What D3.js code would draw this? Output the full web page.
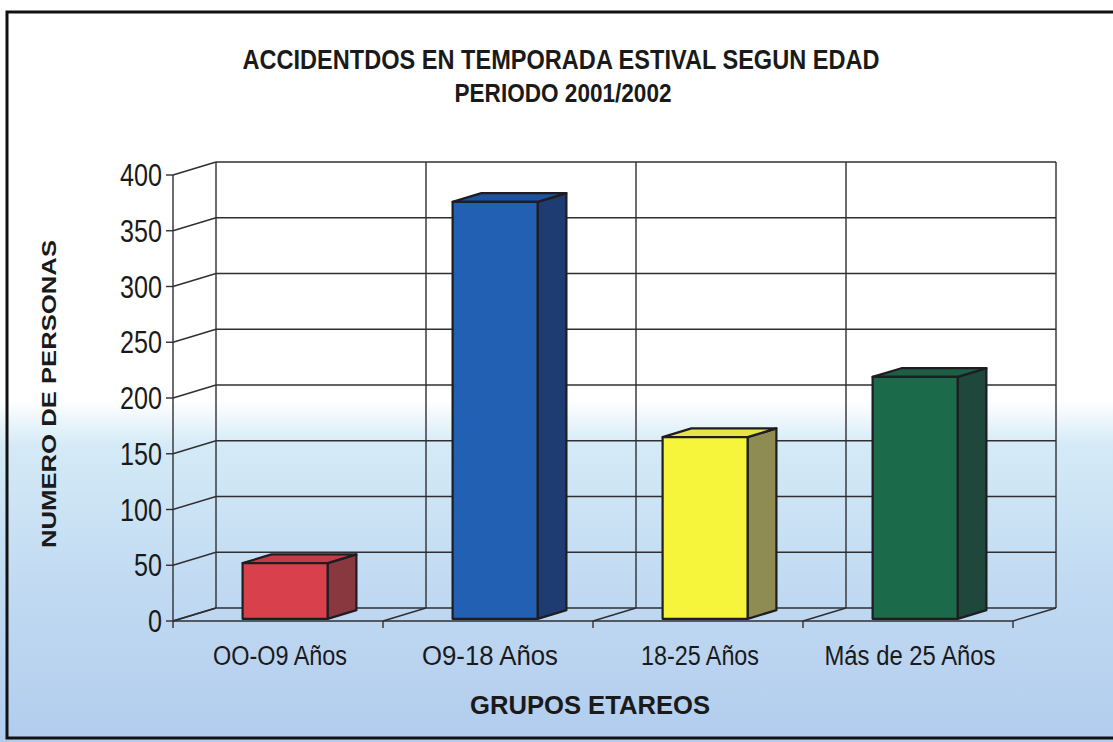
<!DOCTYPE html>
<html><head><meta charset="utf-8">
<script src="https://cdn.jsdelivr.net/npm/d3@7"></script>
<style>html,body{margin:0;padding:0;background:#fff}svg{display:block}</style>
</head><body>
<svg id="c" width="1113" height="742"></svg>
<script>
const categories = ["OO-O9 Años", "O9-18 Años", "18-25 Años", "Más de 25 Años"];
const values = [50, 374, 163, 217];
const yTicks = [0, 50, 100, 150, 200, 250, 300, 350, 400];
const frontColors = ["#d8404c", "#2160b2", "#f6f53c", "#1b6a4a"];
const topColors = ["#c43a48", "#1d52a0", "#e6e448", "#1d5e44"];
const sideColors = ["#8a3840", "#1e3b72", "#8e8c52", "#1f473c"];
const titleText = "ACCIDENTDOS EN TEMPORADA ESTIVAL SEGUN EDAD";
const subtitleText = "PERIODO 2001/2002";
const yTitle = "NUMERO DE PERSONAS";
const xTitle = "GRUPOS ETAREOS";

const svg = d3.select("#c");
const W = 1113, H = 742;
const FONT = "'Liberation Sans Narrow','Liberation Sans',Arial,sans-serif";

// background
const defs = svg.append("defs");
const g = defs.append("linearGradient").attr("id","bg").attr("x1",0).attr("y1",0).attr("x2",0).attr("y2",1);
g.append("stop").attr("offset","0%").attr("stop-color","#ffffff");
g.append("stop").attr("offset","54%").attr("stop-color","#ffffff");
g.append("stop").attr("offset","60%").attr("stop-color","#d4eaf7");
g.append("stop").attr("offset","78%").attr("stop-color","#c2dbf2");
g.append("stop").attr("offset","100%").attr("stop-color","#b2ccee");
svg.append("rect").attr("width",W).attr("height",H).attr("fill","url(#bg)");

// frame
svg.append("path").attr("d","M1113,12 L7,12 L7,738 L1113,738").attr("fill","none").attr("stroke","#111").attr("stroke-width",3);

// geometry
const x0 = 173, x1 = 1013;
const y = d3.scaleLinear().domain([0,400]).range([621,175]);
const x = d3.scaleBand().domain(categories).range([x0,x1]);
const DX = 43, DY = -13;
const barW = 85;
const f1 = 0.165, f2 = 0.835;

const gridCol = "#2f2f33";
const grid = svg.append("g").attr("stroke",gridCol).attr("stroke-width",1.4).attr("fill","none");

yTicks.forEach(t=>{
  grid.append("line").attr("x1",x0+DX).attr("x2",x1+DX).attr("y1",y(t)+DY).attr("y2",y(t)+DY);
  grid.append("line").attr("x1",x0).attr("y1",y(t)).attr("x2",x0+DX).attr("y2",y(t)+DY);
  grid.append("line").attr("x1",x0-7).attr("y1",y(t)).attr("x2",x0).attr("y2",y(t));
});
const bounds = categories.map(c=>x(c)).concat([x1]);
bounds.forEach(bx=>{
  grid.append("line").attr("x1",bx+DX).attr("x2",bx+DX).attr("y1",y(400)+DY).attr("y2",y(0)+DY);
  grid.append("line").attr("x1",bx).attr("y1",y(0)).attr("x2",bx+DX).attr("y2",y(0)+DY);
  grid.append("line").attr("x1",bx).attr("x2",bx).attr("y1",y(0)).attr("y2",y(0)+7);
});
grid.append("line").attr("x1",x0).attr("x2",x0).attr("y1",y(400)).attr("y2",y(0));
grid.append("line").attr("x1",x0).attr("x2",x1).attr("y1",y(0)).attr("y2",y(0));

// bars
const bars = svg.append("g").attr("stroke","#1e1e22").attr("stroke-width",2.2).attr("stroke-linejoin","round");
categories.forEach((c,i)=>{
  const bx = x(c) + (x.bandwidth()-barW)/2 + DX*f1;
  const by0 = y(0) + DY*f1;
  const byt = y(values[i]) + DY*f1;
  const ddx = DX*(f2-f1), ddy = DY*(f2-f1);
  bars.append("path").attr("fill",sideColors[i])
    .attr("d",`M${bx+barW},${by0} L${bx+barW+ddx},${by0+ddy} L${bx+barW+ddx},${byt+ddy} L${bx+barW},${byt} Z`);
  bars.append("path").attr("fill",topColors[i])
    .attr("d",`M${bx},${byt} L${bx+ddx},${byt+ddy} L${bx+barW+ddx},${byt+ddy} L${bx+barW},${byt} Z`);
  bars.append("rect").attr("fill",frontColors[i]).attr("x",bx).attr("y",byt).attr("width",barW).attr("height",by0-byt);
});

const txt = svg.append("g").attr("fill","#1a1a1a");
yTicks.forEach(t=>{
  txt.append("text").attr("x",x0-11).attr("y",y(t)+11).attr("text-anchor","end")
    .attr("font-family",FONT).attr("font-size",31)
    .attr("textLength",String(t).length*14).attr("lengthAdjust","spacingAndGlyphs").text(t);
});
const xLabW = [134, 136, 118, 171];
categories.forEach((c,i)=>{
  txt.append("text").attr("x",x(c)+x.bandwidth()/2+2).attr("y",665).attr("text-anchor","middle")
    .attr("font-family",FONT).attr("font-size",27).attr("textLength",xLabW[i]).attr("lengthAdjust","spacingAndGlyphs").text(c);
});
txt.append("text").attr("x",561).attr("y",69).attr("text-anchor","middle")
  .attr("font-family",FONT).attr("font-weight","bold")
  .attr("font-size",27).attr("textLength",637).attr("lengthAdjust","spacingAndGlyphs").text(titleText);
txt.append("text").attr("x",563).attr("y",102).attr("text-anchor","middle")
  .attr("font-family",FONT).attr("font-weight","bold")
  .attr("font-size",25).attr("textLength",217).attr("lengthAdjust","spacingAndGlyphs").text(subtitleText);
txt.append("text").attr("transform","translate(56,394) rotate(-90)").attr("text-anchor","middle")
  .attr("font-family","'Liberation Sans',Arial,sans-serif").attr("font-weight","bold")
  .attr("font-size",20).attr("textLength",308).attr("lengthAdjust","spacingAndGlyphs").text(yTitle);
txt.append("text").attr("x",590).attr("y",714).attr("text-anchor","middle")
  .attr("font-family",FONT).attr("font-weight","bold")
  .attr("font-size",25).attr("textLength",240).attr("lengthAdjust","spacingAndGlyphs").text(xTitle);
</script>
</body></html>
